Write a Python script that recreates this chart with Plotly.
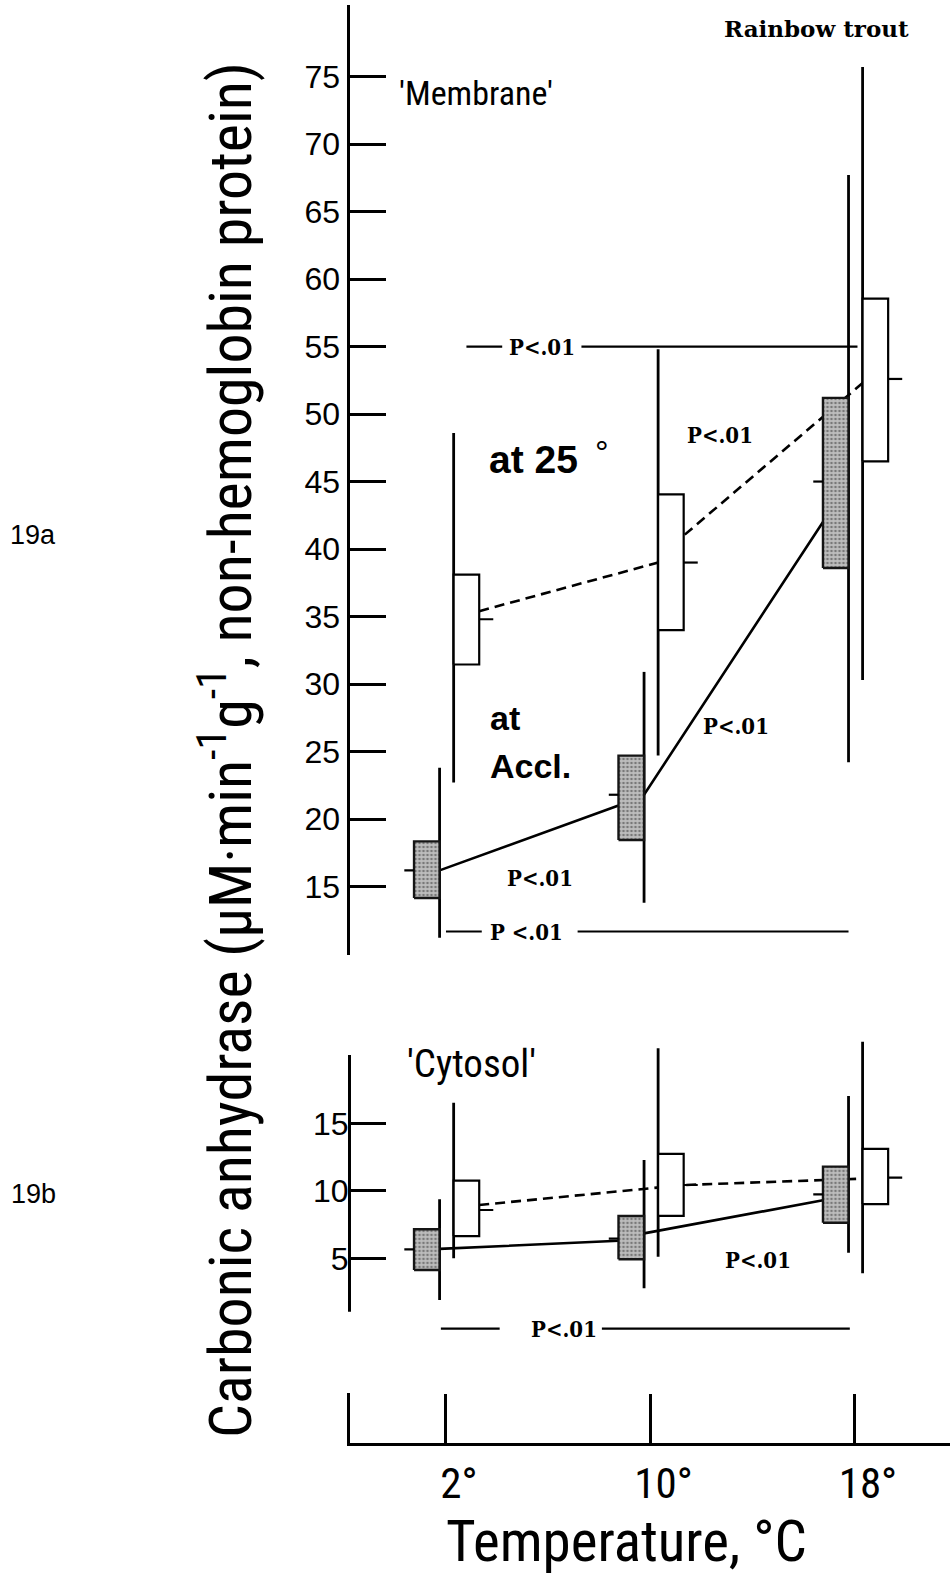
import plotly.graph_objects as go

W, H = 950, 1580

# ---------------- data ----------------
temps = [2, 10, 18]
xtick_text = ["2°", "10°", "18°"]
mem_yticks = [15, 20, 25, 30, 35, 40, 45, 50, 55, 60, 65, 70, 75]
cyt_yticks = [5, 10, 15]

# 'Membrane' – assayed at acclimation temperature (stippled boxes)
mem_acc_mean = [16.2, 21.8, 45.0]
mem_acc_box_lo = [14.15, 18.45, 38.6]
mem_acc_box_hi = [18.35, 24.7, 51.2]
mem_acc_rng_lo = [11.2, 13.8, 24.2]
mem_acc_rng_hi = [23.8, 30.9, 67.7]
mem_acc_line_in = [None, 21.0, 42.0]
mem_acc_line_out = [16.2, 21.8, None]

# 'Membrane' – assayed at 25 deg (open boxes)
mem_25_mean = [34.8, 39.0, 52.6]
mem_25_box_lo = [31.45, 34.0, 46.5]
mem_25_box_hi = [38.1, 44.05, 58.55]
mem_25_rng_lo = [22.7, 24.7, 30.3]
mem_25_rng_hi = [48.6, 54.8, 75.7]
mem_25_line_in = [None, 39.0, 52.3]
mem_25_line_out = [35.4, 41.0, None]

# 'Cytosol' – at acclimation temperature
cyt_acc_mean = [5.67, 6.46, 9.74]
cyt_acc_box_lo = [4.14, 4.93, 7.64]
cyt_acc_box_hi = [7.15, 8.14, 11.79]
cyt_acc_rng_lo = [1.91, 2.78, 5.42]
cyt_acc_rng_hi = [9.37, 12.28, 17.02]
cyt_acc_line_in = [None, 6.3, 9.3]
cyt_acc_line_out = [5.7, 6.85, None]

# 'Cytosol' – at 25 deg
cyt_25_mean = [8.58, 10.43, 10.98]
cyt_25_box_lo = [6.65, 8.14, 9.02]
cyt_25_box_hi = [10.75, 12.73, 13.1]
cyt_25_rng_lo = [5.0, 5.12, 3.89]
cyt_25_rng_hi = [16.53, 20.56, 21.05]
cyt_25_line_in = [None, 10.2, 10.9]
cyt_25_line_out = [8.95, 10.43, None]

# significance labels: (text, temperature position, value)
mem_p_labels = [("P&lt;.01", 12.72, 48.45), ("P&lt;.01", 13.35, 26.9), ("P&lt;.01", 5.68, 15.6)]
cyt_p_labels = [("P&lt;.01", 14.2, 4.9)]
# brackets: (text, value, left line start, left line end, text centre, right line start, right line end)
mem_brackets = [("P&lt;.01", 55.0, 2.8, 4.2, 5.75, 7.3, 18.1),
                ("P &lt;.01", 11.67, 2.0, 3.4, 5.15, 7.15, 17.75)]
cyt_brackets = [("P&lt;.01", -0.21, 1.8, 4.1, 6.6, 8.1, 17.8)]

# ---------------- style / layout constants ----------------
ACC_DX, OPEN_DX, BOX_W = -0.75, 0.8, 1.0
ACC_TICK, OPEN_TICK = 0.38, 0.55
X_RANGE = [-1.775, 21.72]
X_DOM = [349.5 / W, 1.0]
MEM_RANGE = [9.93, 80.3]
MEM_DOM = [1 - 955 / H, 1 - 5 / H]
CYT_RANGE = [-1.7, 21.4]
CYT_DOM = [1 - 1348.8 / H, 1 - 1036.9 / H]
STRIP_DOM = [1 - 1443 / H, 1 - 1393 / H]
CYT_SPINE = [1.05, 20.06]

NARROW = "'Roboto Condensed', 'Liberation Sans Narrow', 'DejaVu Sans Condensed', sans-serif"
ARIAL = "'Liberation Sans', Arial, sans-serif"
SERIFB = "'DejaVu Serif Condensed', 'DejaVu Serif', serif"

fig = go.Figure()


def add_panel(xa, ya, acc, opn):
    (a_mean, a_lo, a_hi, a_rlo, a_rhi, a_in, a_out) = acc
    (o_mean, o_lo, o_hi, o_rlo, o_rhi, o_in, o_out) = opn
    # connecting lines
    for series, dx_c, dash in ((acc, ACC_DX, "solid"), (opn, OPEN_DX, "10px,6px")):
        lin, lout = series[5], series[6]
        X, Y = [], []
        for i, t in enumerate(temps):
            if lin[i] is not None:
                X.append(t + dx_c - BOX_W / 2); Y.append(lin[i])
            if lout[i] is not None:
                X.append(t + dx_c + BOX_W / 2); Y.append(lout[i])
        fig.add_trace(go.Scatter(x=X, y=Y, mode="lines", xaxis=xa, yaxis=ya,
                                 line=dict(color="black", width=2.6, dash=dash),
                                 showlegend=False, hoverinfo="skip"))
    # range lines
    X, Y = [], []
    for i, t in enumerate(temps):
        xr = t + ACC_DX + BOX_W / 2
        X += [xr, xr, None]; Y += [a_rlo[i], a_rhi[i], None]
        xr = t + OPEN_DX - BOX_W / 2
        X += [xr, xr, None]; Y += [o_rlo[i], o_rhi[i], None]
    fig.add_trace(go.Scatter(x=X, y=Y, mode="lines", xaxis=xa, yaxis=ya,
                             line=dict(color="black", width=2.8),
                             showlegend=False, hoverinfo="skip"))
    # stippled boxes (acclimation temperature)
    X, Y = [], []
    for i, t in enumerate(temps):
        x0, x1 = t + ACC_DX - BOX_W / 2, t + ACC_DX + BOX_W / 2
        X += [x0, x1, x1, x0, x0, None]; Y += [a_lo[i], a_lo[i], a_hi[i], a_hi[i], a_lo[i], None]
    fig.add_trace(go.Scatter(x=X, y=Y, mode="lines", fill="toself", xaxis=xa, yaxis=ya,
                             fillcolor="#a8a8a8",
                             fillpattern=dict(shape=".", fgcolor="#333333", bgcolor="#bdbdbd",
                                              size=4, solidity=0.35),
                             line=dict(color="#151515", width=2.4),
                             showlegend=False, hoverinfo="skip"))
    # open boxes (at 25 deg)
    X, Y = [], []
    for i, t in enumerate(temps):
        x0, x1 = t + OPEN_DX - BOX_W / 2, t + OPEN_DX + BOX_W / 2
        X += [x0, x1, x1, x0, x0, None]; Y += [o_lo[i], o_lo[i], o_hi[i], o_hi[i], o_lo[i], None]
    fig.add_trace(go.Scatter(x=X, y=Y, mode="lines", fill="toself", xaxis=xa, yaxis=ya,
                             fillcolor="white", line=dict(color="black", width=2.2),
                             showlegend=False, hoverinfo="skip"))
    # mean ticks
    X, Y = [], []
    for i, t in enumerate(temps):
        xe = t + ACC_DX - BOX_W / 2
        X += [xe - ACC_TICK, xe, None]; Y += [a_mean[i], a_mean[i], None]
        xe = t + OPEN_DX + BOX_W / 2
        X += [xe, xe + OPEN_TICK, None]; Y += [o_mean[i], o_mean[i], None]
    fig.add_trace(go.Scatter(x=X, y=Y, mode="lines", xaxis=xa, yaxis=ya,
                             line=dict(color="black", width=2.2),
                             showlegend=False, hoverinfo="skip"))


add_panel("x", "y",
          (mem_acc_mean, mem_acc_box_lo, mem_acc_box_hi, mem_acc_rng_lo, mem_acc_rng_hi,
           mem_acc_line_in, mem_acc_line_out),
          (mem_25_mean, mem_25_box_lo, mem_25_box_hi, mem_25_rng_lo, mem_25_rng_hi,
           mem_25_line_in, mem_25_line_out))
add_panel("x2", "y2",
          (cyt_acc_mean, cyt_acc_box_lo, cyt_acc_box_hi, cyt_acc_rng_lo, cyt_acc_rng_hi,
           cyt_acc_line_in, cyt_acc_line_out),
          (cyt_25_mean, cyt_25_box_lo, cyt_25_box_hi, cyt_25_rng_lo, cyt_25_rng_hi,
           cyt_25_line_in, cyt_25_line_out))

# bracket lines
for brs, xa, ya in ((mem_brackets, "x", "y"), (cyt_brackets, "x2", "y2")):
    X, Y = [], []
    for (txt, v, l0, l1, tc, r0, r1) in brs:
        X += [l0, l1, None, r0, r1, None]; Y += [v, v, None, v, v, None]
    fig.add_trace(go.Scatter(x=X, y=Y, mode="lines", xaxis=xa, yaxis=ya,
                             line=dict(color="black", width=2.2),
                             showlegend=False, hoverinfo="skip"))

# invisible trace so that the temperature axis strip is drawn
fig.add_trace(go.Scatter(x=temps, y=[0.5] * len(temps), mode="markers", xaxis="x3", yaxis="y3",
                         marker=dict(opacity=0), showlegend=False, hoverinfo="skip"))

annotations = []
pfont = dict(family=SERIFB, size=22, color="black")
for (txt, t, v) in mem_p_labels:
    annotations.append(dict(x=t, y=v, xref="x", yref="y", text="<b>%s</b>" % txt,
                            xanchor="center", yanchor="middle", showarrow=False, font=pfont))
for (txt, t, v) in cyt_p_labels:
    annotations.append(dict(x=t, y=v, xref="x2", yref="y2", text="<b>%s</b>" % txt,
                            xanchor="center", yanchor="middle", showarrow=False, font=pfont))
for brs, xr, yr in ((mem_brackets, "x", "y"), (cyt_brackets, "x2", "y2")):
    for (txt, v, l0, l1, tc, r0, r1) in brs:
        annotations.append(dict(x=tc, y=v, xref=xr, yref=yr, text="<b>%s</b>" % txt,
                                xanchor="center", yanchor="middle", showarrow=False, font=pfont))

annotations += [
    dict(x=0.1, y=73.8, xref="x", yref="y", xanchor="left", yanchor="middle", text="'Membrane'",
         showarrow=False, font=dict(family=NARROW, size=34, color="black")),
    dict(x=0.4, y=19.4, xref="x2", yref="y2", xanchor="left", yanchor="middle", text="'Cytosol'",
         showarrow=False, font=dict(family=NARROW, size=39, color="black")),
    dict(x=3.6, y=46.6, xref="x", yref="y", xanchor="left", yanchor="middle",
         text="<b>at 25</b>", showarrow=False,
         font=dict(family=ARIAL, size=39, color="black")),
    dict(x=8.1, y=47.2, xref="x", yref="y", xanchor="center", yanchor="middle",
         text="°", showarrow=False,
         font=dict(family=ARIAL, size=34, color="black")),
    dict(x=3.65, y=27.5, xref="x", yref="y", xanchor="left", yanchor="middle", text="<b>at</b>",
         showarrow=False, font=dict(family=ARIAL, size=34, color="black")),
    dict(x=3.65, y=23.9, xref="x", yref="y", xanchor="left", yanchor="middle", text="<b>Accl.</b>",
         showarrow=False, font=dict(family=ARIAL, size=34, color="black")),
    dict(x=816 / W, y=1 - 28.7 / H, xref="paper", yref="paper", xanchor="center", yanchor="middle",
         text="<b>Rainbow trout</b>", showarrow=False,
         font=dict(family="'DejaVu Serif', serif", size=23, color="black")),
    dict(x=33 / W, y=1 - 535 / H, xref="paper", yref="paper", xanchor="center", yanchor="middle",
         text="19a", showarrow=False, font=dict(family=ARIAL, size=27, color="black")),
    dict(x=33 / W, y=1 - 1194 / H, xref="paper", yref="paper", xanchor="center", yanchor="middle",
         text="19b", showarrow=False, font=dict(family=ARIAL, size=27, color="black")),
    dict(x=626 / W, y=1 - 1541 / H, xref="paper", yref="paper", xanchor="center", yanchor="middle",
         text="Temperature, °C", showarrow=False,
         font=dict(family=NARROW, size=57, color="black")),
    dict(x=226 / W, y=1 - 750 / H, xref="paper", yref="paper", xanchor="center", yanchor="middle",
         textangle=-90,
         text="Carbonic anhydrase (µM·min<sup>-1</sup>g<sup>-1</sup>, non-hemoglobin protein)",
         showarrow=False, font=dict(family=NARROW, size=60, color="black")),
]


def y2paper(v):
    return CYT_DOM[0] + (v - CYT_RANGE[0]) / (CYT_RANGE[1] - CYT_RANGE[0]) * (CYT_DOM[1] - CYT_DOM[0])


shapes = [dict(type="line", xref="paper", yref="paper", x0=X_DOM[0], x1=X_DOM[0],
               y0=y2paper(CYT_SPINE[0]), y1=y2paper(CYT_SPINE[1]),
               line=dict(color="black", width=3))]

yax_common = dict(ticks="inside", ticklen=36, tickwidth=3, tickcolor="black",
                  showgrid=False, zeroline=False,
                  tickfont=dict(family=ARIAL, size=32, color="black"))
xax_hidden = dict(domain=X_DOM, range=X_RANGE, visible=False, showgrid=False, zeroline=False)

fig.update_layout(
    width=W, height=H, margin=dict(l=0, r=0, t=0, b=0),
    paper_bgcolor="white", plot_bgcolor="white",
    showlegend=False,
    xaxis=dict(anchor="y", **xax_hidden),
    xaxis2=dict(anchor="y2", **xax_hidden),
    xaxis3=dict(anchor="y3", domain=X_DOM, range=X_RANGE, showgrid=False, zeroline=False,
                showline=True, linewidth=3, linecolor="black",
                ticks="inside", ticklen=49, tickwidth=3, tickcolor="black",
                tickvals=temps, ticktext=xtick_text, ticklabelshift=13,
                tickfont=dict(family=NARROW, size=43, color="black")),
    yaxis=dict(anchor="x", domain=MEM_DOM, range=MEM_RANGE, tickvals=mem_yticks,
               showline=True, linewidth=3, linecolor="black", **yax_common),
    yaxis2=dict(anchor="x2", domain=CYT_DOM, range=CYT_RANGE, tickvals=cyt_yticks,
                showline=False, **yax_common),
    yaxis3=dict(anchor="x3", domain=STRIP_DOM, range=[0, 1], showline=True, linewidth=3,
                linecolor="black", showticklabels=False, ticks="", showgrid=False,
                zeroline=False),
    annotations=annotations,
    shapes=shapes,
)

fig.write_html("out.html")
